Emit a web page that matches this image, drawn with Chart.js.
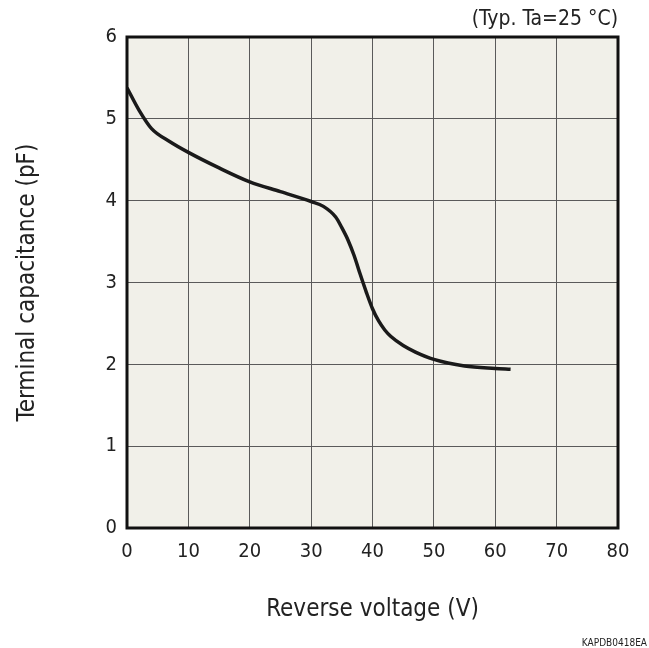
<!DOCTYPE html>
<html>
<head>
<meta charset="utf-8">
<script src="https://cdn.jsdelivr.net/npm/chart.js@4/dist/chart.umd.min.js"></script>
<style>
  html, body { margin: 0; padding: 0; background: #fff; }
  #wrap { width: 649px; height: 648px; }
</style>
</head>
<body>
<div id="wrap"><canvas id="capChart" width="649" height="648"></canvas></div>
<script>
// datos
const voltage = [0, 2, 4, 7, 10, 15, 20, 25, 30, 32, 34, 35, 36, 37, 38, 39, 40, 41, 42, 43, 45, 47, 50, 55, 60, 62.5];
const capacitance = [5.38, 5.1, 4.88, 4.72, 4.59, 4.40, 4.23, 4.11, 3.99, 3.93, 3.80, 3.67, 3.52, 3.33, 3.10, 2.88, 2.68, 2.53, 2.42, 2.34, 2.23, 2.15, 2.06, 1.98, 1.95, 1.94];
const xTicks = [0, 10, 20, 30, 40, 50, 60, 70, 80];
const yTicks = [0, 1, 2, 3, 4, 5, 6];
const noteText = '(Typ. Ta=25 °C)';
const codeText = 'KAPDB0418EA';

const FONT = "'DejaVu Sans Condensed', 'DejaVu Sans', Verdana, sans-serif";
const TXT = '#222';

// fondo, marco y textos extra
const framePlugin = {
    id: 'frame',
    beforeDraw(chart) {
        const a = chart.chartArea, c = chart.ctx;
        c.save();
        c.fillStyle = '#f1f0e9';
        c.fillRect(a.left, a.top, a.right - a.left, a.bottom - a.top);
        c.restore();
    },
    afterDraw(chart) {
        const a = chart.chartArea, c = chart.ctx;
        c.save();
        c.strokeStyle = '#111';
        c.lineWidth = 3;
        c.strokeRect(a.left, a.top, a.right - a.left, a.bottom - a.top);
        c.fillStyle = TXT;
        c.font = '21px ' + FONT;
        c.textAlign = 'right';
        c.textBaseline = 'middle';
        c.fillText(noteText, a.right, 20);
        c.font = '10px ' + FONT;
        c.fillText(codeText, 647, 643);
        c.restore();
    }
};

const ctx = document.getElementById('capChart').getContext('2d');
new Chart(ctx, {
    type: 'line',
    data: {
        datasets: [{
            data: voltage.map((v, i) => ({ x: v, y: capacitance[i] })),
            borderColor: '#1a1a1a',
            borderWidth: 3.5,
            pointRadius: 0,
            cubicInterpolationMode: 'monotone',
            fill: false
        }]
    },
    options: {
        responsive: false,
        animation: false,
        layout: { padding: { top: 37, right: 31, left: 0, bottom: 0 } },
        plugins: { legend: { display: false }, tooltip: { enabled: false } },
        scales: {
            x: {
                type: 'linear',
                min: 0, max: 80,
                afterFit: s => { s.height = 120; },
                afterBuildTicks: s => { s.ticks = xTicks.map(v => ({ value: v })); },
                grid: { color: '#5a5a5a', lineWidth: 1, drawTicks: false },
                border: { display: false },
                ticks: { color: TXT, padding: 12, font: { family: FONT, size: 20 } },
                title: {
                    display: true, text: 'Reverse voltage (V)', color: TXT,
                    font: { family: FONT, size: 24 }, padding: { top: 0, bottom: 24 }
                }
            },
            y: {
                type: 'linear',
                min: 0, max: 6,
                afterFit: s => { s.width = 127; },
                afterBuildTicks: s => { s.ticks = yTicks.map(v => ({ value: v })); },
                grid: { color: '#5a5a5a', lineWidth: 1, drawTicks: false },
                border: { display: false },
                ticks: { color: TXT, padding: 10, font: { family: FONT, size: 20 } },
                title: {
                    display: true, text: 'Terminal capacitance (pF)', color: TXT,
                    font: { family: FONT, size: 24 }, padding: { top: 13, bottom: 0 }
                }
            }
        }
    },
    plugins: [framePlugin]
});
</script>
</body>
</html>
